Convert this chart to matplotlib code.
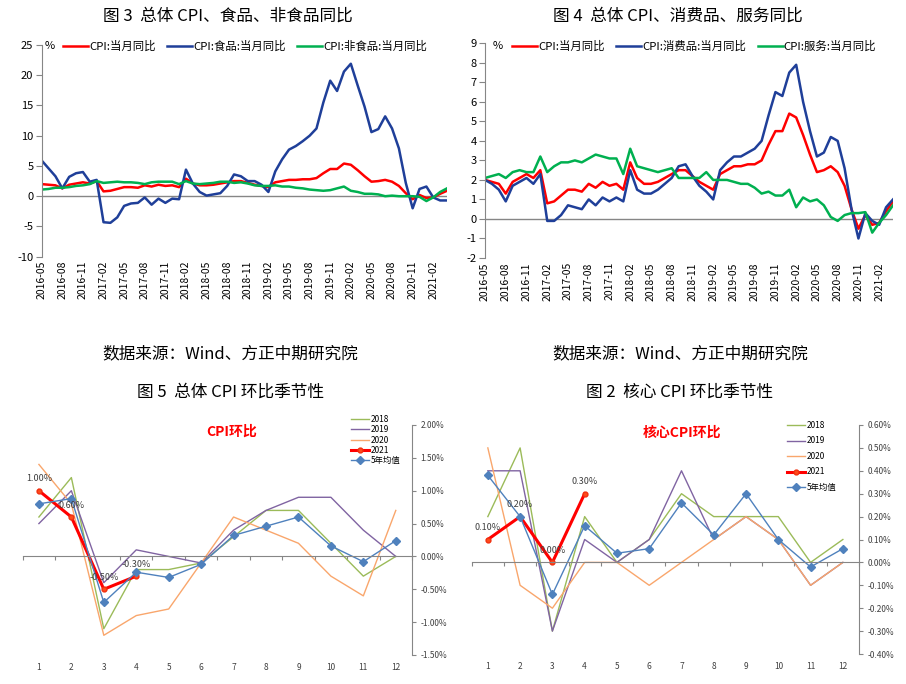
import numpy as np
import pandas as pd
import matplotlib
matplotlib.use('Agg')
import matplotlib.pyplot as plt

plt.rcParams['font.family'] = ['Noto Sans CJK SC', 'DejaVu Sans']
plt.rcParams['axes.unicode_minus'] = False

###############################################################################
# Data
###############################################################################
months = list(pd.date_range('2016-05-01', periods=60, freq='MS').strftime('%Y-%m'))

cpi_yoy = [2.0, 1.9, 1.8, 1.3, 1.9, 2.1, 2.3, 2.1,
           2.5, 0.8, 0.9, 1.2, 1.5, 1.5, 1.4, 1.8, 1.6, 1.9, 1.7, 1.8,
           1.5, 2.9, 2.1, 1.8, 1.8, 1.9, 2.1, 2.3, 2.5, 2.5, 2.2, 1.9,
           1.7, 1.5, 2.3, 2.5, 2.7, 2.7, 2.8, 2.8, 3.0, 3.8, 4.5, 4.5,
           5.4, 5.2, 4.3, 3.3, 2.4, 2.5, 2.7, 2.4, 1.7, 0.5, -0.5, 0.2,
           -0.3, -0.2, 0.4, 0.9]
food_yoy = [5.9, 4.6, 3.3, 1.3, 3.2, 3.8, 4.0, 2.4,
            2.7, -4.3, -4.4, -3.5, -1.6, -1.2, -1.1, -0.2, -1.4, -0.4, -1.1, -0.4,
            -0.5, 4.4, 2.1, 0.7, 0.1, 0.3, 0.5, 1.7, 3.6, 3.3, 2.5, 2.5,
            1.9, 0.7, 4.1, 6.1, 7.7, 8.3, 9.1, 10.0, 11.2, 15.5, 19.1, 17.4,
            20.6, 21.9, 18.3, 14.8, 10.6, 11.1, 13.2, 11.2, 7.9, 2.2, -2.0, 1.2,
            1.6, -0.2, -0.7, -0.7]
nonfood_yoy = [1.1, 1.2, 1.4, 1.4, 1.5, 1.7, 1.8, 2.0,
               2.5, 2.2, 2.3, 2.4, 2.3, 2.3, 2.2, 2.0, 2.3, 2.4, 2.4, 2.4,
               2.0, 2.5, 2.1, 2.0, 2.1, 2.2, 2.4, 2.4, 2.2, 2.3, 2.1, 1.8,
               1.7, 1.7, 1.8, 1.6, 1.6, 1.4, 1.3, 1.1, 1.0, 0.9, 1.0, 1.3,
               1.6, 0.9, 0.7, 0.4, 0.4, 0.3, 0.0, 0.1, 0.0, 0.0, 0.0, -0.1,
               -0.8, -0.2, 0.7, 1.3]
goods_yoy = [2.0, 1.8, 1.5, 0.9, 1.7, 1.9, 2.1, 1.8,
             2.3, -0.1, -0.1, 0.2, 0.7, 0.6, 0.5, 1.0, 0.7, 1.1, 0.9, 1.1,
             0.9, 2.5, 1.5, 1.3, 1.3, 1.5, 1.8, 2.1, 2.7, 2.8, 2.2, 1.7,
             1.4, 1.0, 2.5, 2.9, 3.2, 3.2, 3.4, 3.6, 4.0, 5.3, 6.5, 6.3,
             7.5, 7.9, 6.0, 4.5, 3.2, 3.4, 4.2, 4.0, 2.6, 0.5, -1.0, 0.3,
             -0.1, -0.3, 0.6, 1.0]
service_yoy = [2.1, 2.2, 2.3, 2.1, 2.4, 2.5, 2.4, 2.4,
               3.2, 2.4, 2.7, 2.9, 2.9, 3.0, 2.9, 3.1, 3.3, 3.2, 3.1, 3.1,
               2.3, 3.6, 2.7, 2.6, 2.5, 2.4, 2.5, 2.6, 2.1, 2.1, 2.1, 2.1,
               2.4, 2.0, 2.0, 2.0, 1.9, 1.8, 1.8, 1.6, 1.3, 1.4, 1.2, 1.2,
               1.5, 0.6, 1.1, 0.9, 1.0, 0.7, 0.1, -0.1, 0.2, 0.3, 0.3, 0.35,
               -0.7, -0.2, 0.2, 0.7]

cal = list(range(1, 13))
cpi_18 = [0.6, 1.2, -1.1, -0.2, -0.2, -0.1, 0.3, 0.7, 0.7, 0.2, -0.3, 0.0]
cpi_19 = [0.5, 1.0, -0.4, 0.1, 0.0, -0.1, 0.4, 0.7, 0.9, 0.9, 0.4, 0.0]
cpi_20 = [1.4, 0.8, -1.2, -0.9, -0.8, -0.1, 0.6, 0.4, 0.2, -0.3, -0.6, 0.7]
cpi_21 = [1.0, 0.6, -0.5, -0.3]
cpi_avg = [0.80, 0.88, -0.70, -0.24, -0.32, -0.12, 0.32, 0.46, 0.60, 0.16, -0.08, 0.24]

core_18 = [0.2, 0.5, -0.3, 0.2, 0.0, 0.1, 0.3, 0.2, 0.2, 0.2, 0.0, 0.1]
core_19 = [0.4, 0.4, -0.3, 0.1, 0.0, 0.1, 0.4, 0.1, 0.2, 0.1, -0.1, 0.0]
core_20 = [0.5, -0.1, -0.2, 0.0, 0.0, -0.1, 0.0, 0.1, 0.2, 0.1, -0.1, 0.0]
core_21 = [0.1, 0.2, 0.0, 0.3]
core_avg = [0.38, 0.20, -0.14, 0.16, 0.04, 0.06, 0.26, 0.12, 0.30, 0.10, -0.02, 0.06]

###############################################################################
# Style
###############################################################################
W, H = 906, 684
GRAY = '#868686'
RED = '#FF0000'
NAVY = '#1F3F99'
GREEN = '#00B050'
C18, C19, C20, CAVG = '#9BBB59', '#8064A2', '#F9A66C', '#4F81BD'

fig = plt.figure(figsize=(W / 100, H / 100), dpi=100)


def axes_px(l, t, r, b):
    return fig.add_axes([l / W, 1 - b / H, (r - l) / W, (b - t) / H])


def ftext(x, y, s, **kw):
    fig.text(x / W, 1 - y / H, s, **kw)


def pct(v, p):
    v = round(v, 4)
    if abs(v) < 1e-9:
        v = 0.0
    return '{:.2f}%'.format(v)


###############################################################################
# Top charts (YoY)
###############################################################################
def top_chart(ax, series, ylim, ystep, pct_x, leg_x):
    x = np.arange(len(months))
    ax.axhline(0, color=GRAY, lw=1, zorder=0)
    for vals, name, col in series:
        ax.plot(x, vals, color=col, lw=1.8, label=name, solid_joinstyle='round')
    ax.set_xlim(0, len(months) - 1)
    ax.set_ylim(*ylim)
    ax.set_yticks(np.arange(ylim[0], ylim[1] + 0.01, ystep))
    ax.set_xticks(x[::3])
    ax.set_xticklabels(months[::3], rotation=90, fontsize=7.5)
    for s in ['top', 'right', 'bottom']:
        ax.spines[s].set_visible(False)
    ax.spines['left'].set_color(GRAY)
    ax.tick_params(axis='x', length=0, pad=3)
    ax.tick_params(axis='y', direction='out', length=4, color=GRAY, labelsize=8, pad=2)
    ax.patch.set_alpha(0)
    ftext(pct_x, 46, '%', fontsize=8, va='center', ha='left')
    ax.legend(loc='center left', bbox_to_anchor=(leg_x / W, 1 - 46 / H),
              bbox_transform=fig.transFigure, ncol=3, frameon=False, fontsize=8.2,
              handlelength=2.2, handletextpad=0.1, columnspacing=1.0,
              borderpad=0, borderaxespad=0)


ax1 = axes_px(41.7, 45, 447, 256.7)
top_chart(ax1, [(cpi_yoy, 'CPI:当月同比', RED),
                (food_yoy, 'CPI:食品:当月同比', NAVY),
                (nonfood_yoy, 'CPI:非食品:当月同比', GREEN)],
          (-10, 25), 5, 45, 63)

ax2 = axes_px(485, 43.3, 893, 258)
top_chart(ax2, [(cpi_yoy, 'CPI:当月同比', RED),
                (goods_yoy, 'CPI:消费品:当月同比', NAVY),
                (service_yoy, 'CPI:服务:当月同比', GREEN)],
          (-2, 9), 1, 493, 512)


###############################################################################
# Bottom charts (MoM seasonality)
###############################################################################
def bottom_chart(ax, y18, y19, y20, y21, yavg, ylim, ystep, title, tx, leg, lsp):
    ax.plot(cal, y18, color=C18, lw=1, label='2018')
    ax.plot(cal, y19, color=C19, lw=1, label='2019')
    ax.plot(cal, y20, color=C20, lw=1, label='2020')
    ax.plot(cal[:len(y21)], y21, color=RED, lw=2.2, marker='o', ms=3.5,
            mfc='#FF4A1A', mec='#F03010', label='2021')
    ax.plot(cal, yavg, color=CAVG, lw=1, marker='D', ms=4.5, mfc=CAVG,
            mec=CAVG, label='5年均值')
    for i, v in enumerate(y21):
        ax.annotate(pct(v, None), (cal[i], v), xytext=(0, 8.5),
                    textcoords='offset points', ha='center', va='center',
                    fontsize=6.5, color='#404040')
    ax.set_xlim(0.5, 12.5)
    ax.set_ylim(*ylim)
    ax.set_yticks(np.arange(ylim[0], ylim[1] + ystep / 10, ystep))
    ax.yaxis.set_major_formatter(plt.FuncFormatter(pct))
    ax.yaxis.tick_right()
    for s in ['top', 'left']:
        ax.spines[s].set_visible(False)
    ax.spines['right'].set_color(GRAY)
    ax.spines['bottom'].set_position(('data', 0))
    ax.spines['bottom'].set_color(GRAY)
    ax.set_xticks(np.arange(0.5, 12.6, 1))
    ax.tick_params(axis='x', direction='out', length=3, color=GRAY, labelbottom=False)
    ax.tick_params(axis='y', direction='out', length=3, color=GRAY, labelsize=6,
                   labelcolor='#404040', pad=3)
    sec = ax.secondary_xaxis('bottom')
    sec.set_xticks(cal)
    sec.spines['bottom'].set_visible(False)
    sec.tick_params(length=0, labelsize=6, labelcolor='#404040', pad=6)
    ax.patch.set_alpha(0)
    ftext(tx[0], tx[1], title, fontsize=10, fontweight='bold', color=RED,
          ha='center', va='center')
    ax.legend(loc='upper left', bbox_to_anchor=(leg[0] / W, 1 - leg[1] / H),
              bbox_transform=fig.transFigure, frameon=False, fontsize=6,
              handlelength=2.2, handletextpad=0.2, labelspacing=lsp,
              borderpad=0, borderaxespad=0)


ax3 = axes_px(22.7, 425, 412, 655)
bottom_chart(ax3, cpi_18, cpi_19, cpi_20, cpi_21, cpi_avg, (-1.5, 2.0), 0.5,
             'CPI环比', (232, 432), (351, 415), 0.16)

ax4 = axes_px(471.7, 425, 859, 654)
bottom_chart(ax4, core_18, core_19, core_20, core_21, core_avg, (-0.4, 0.6), 0.1,
             '核心CPI环比', (682, 433), (787, 421), 0.78)

###############################################################################
# Captions
###############################################################################
ftext(228, 16, '图 3  总体 CPI、食品、非食品同比', fontsize=12, ha='center', va='center')
ftext(678, 16, '图 4  总体 CPI、消费品、服务同比', fontsize=12, ha='center', va='center')
ftext(230, 354, '数据来源：Wind、方正中期研究院', fontsize=12, style='italic',
      ha='center', va='center')
ftext(680, 354, '数据来源：Wind、方正中期研究院', fontsize=12, style='italic',
      ha='center', va='center')
ftext(230, 392, '图 5  总体 CPI 环比季节性', fontsize=12, ha='center', va='center')
ftext(680, 392, '图 2  核心 CPI 环比季节性', fontsize=12, ha='center', va='center')

fig.savefig('out.png', dpi=100, facecolor='white')
plt.close('all')
